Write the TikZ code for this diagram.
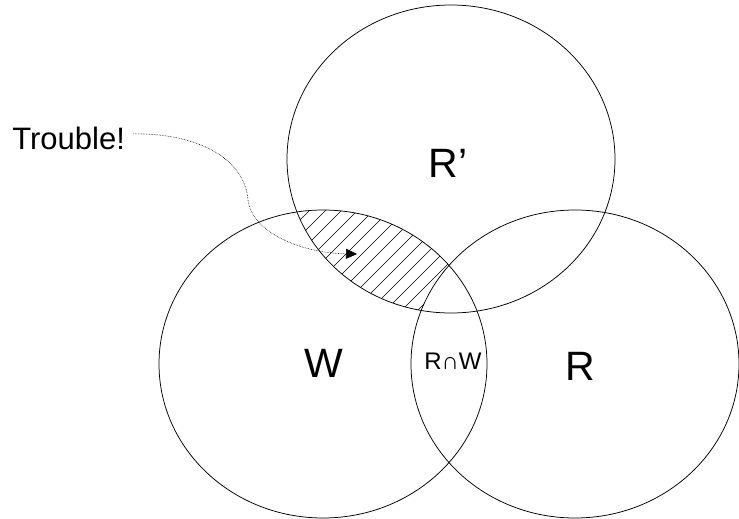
\documentclass[tikz,border=0pt]{standalone}
\usepackage{fontspec}
\setmainfont{Liberation Sans}
\usetikzlibrary{arrows.meta}
\begin{document}
\begin{tikzpicture}[x=1pt,y=-1pt,line width=0.75pt,
  setsize/.style={x radius=164pt,y radius=154pt},
  biglabel/.style={font=\fontsize{41}{41}\selectfont,inner sep=0,anchor=base},
  smalllabel/.style={font=\fontsize{24}{24}\selectfont,inner sep=0,anchor=base},
  note/.style={font=\fontsize{31}{31}\selectfont,inner sep=0,anchor=base west}]
 \useasboundingbox (0,0) rectangle (739,519);
 \coordinate (Rp) at (451,159);
 \coordinate (W) at (323,364);
 \coordinate (R) at (575,364);
 \begin{scope}[even odd rule]
  \clip (Rp) ellipse [setsize];
  \clip (W) ellipse [setsize];
  \clip (0,0) rectangle (739,519) (R) ellipse [setsize];
  \foreach \c in {440,456,...,840}
   \draw[line width=0.6pt] (\c-330,330) -- ++(160,-160);
 \end{scope}
 \draw (Rp) ellipse [setsize];
 \draw (W) ellipse [setsize];
 \draw (R) ellipse [setsize];
 \node[biglabel] (lRp) at (448,177) {R’};
 \node[biglabel] (lW) at (324,377) {W};
 \node[biglabel] (lR) at (580,380) {R};
 \node[smalllabel] (lRW) at (453,369) {R∩W};
 \node[note] (trouble) at (12,149) {Trouble!};
 \coordinate (bend) at (248,200);
 \coordinate (tip) at (357,254);
 \draw[densely dotted,line width=0.6pt,-{Triangle[length=11pt,width=10pt]}]
  ([xshift=8pt,yshift=4pt]trouble.east) .. controls (200,133) and (245,160) .. (bend)
  .. controls (252,232) and (300,253) .. (tip);
\end{tikzpicture}
\end{document}
